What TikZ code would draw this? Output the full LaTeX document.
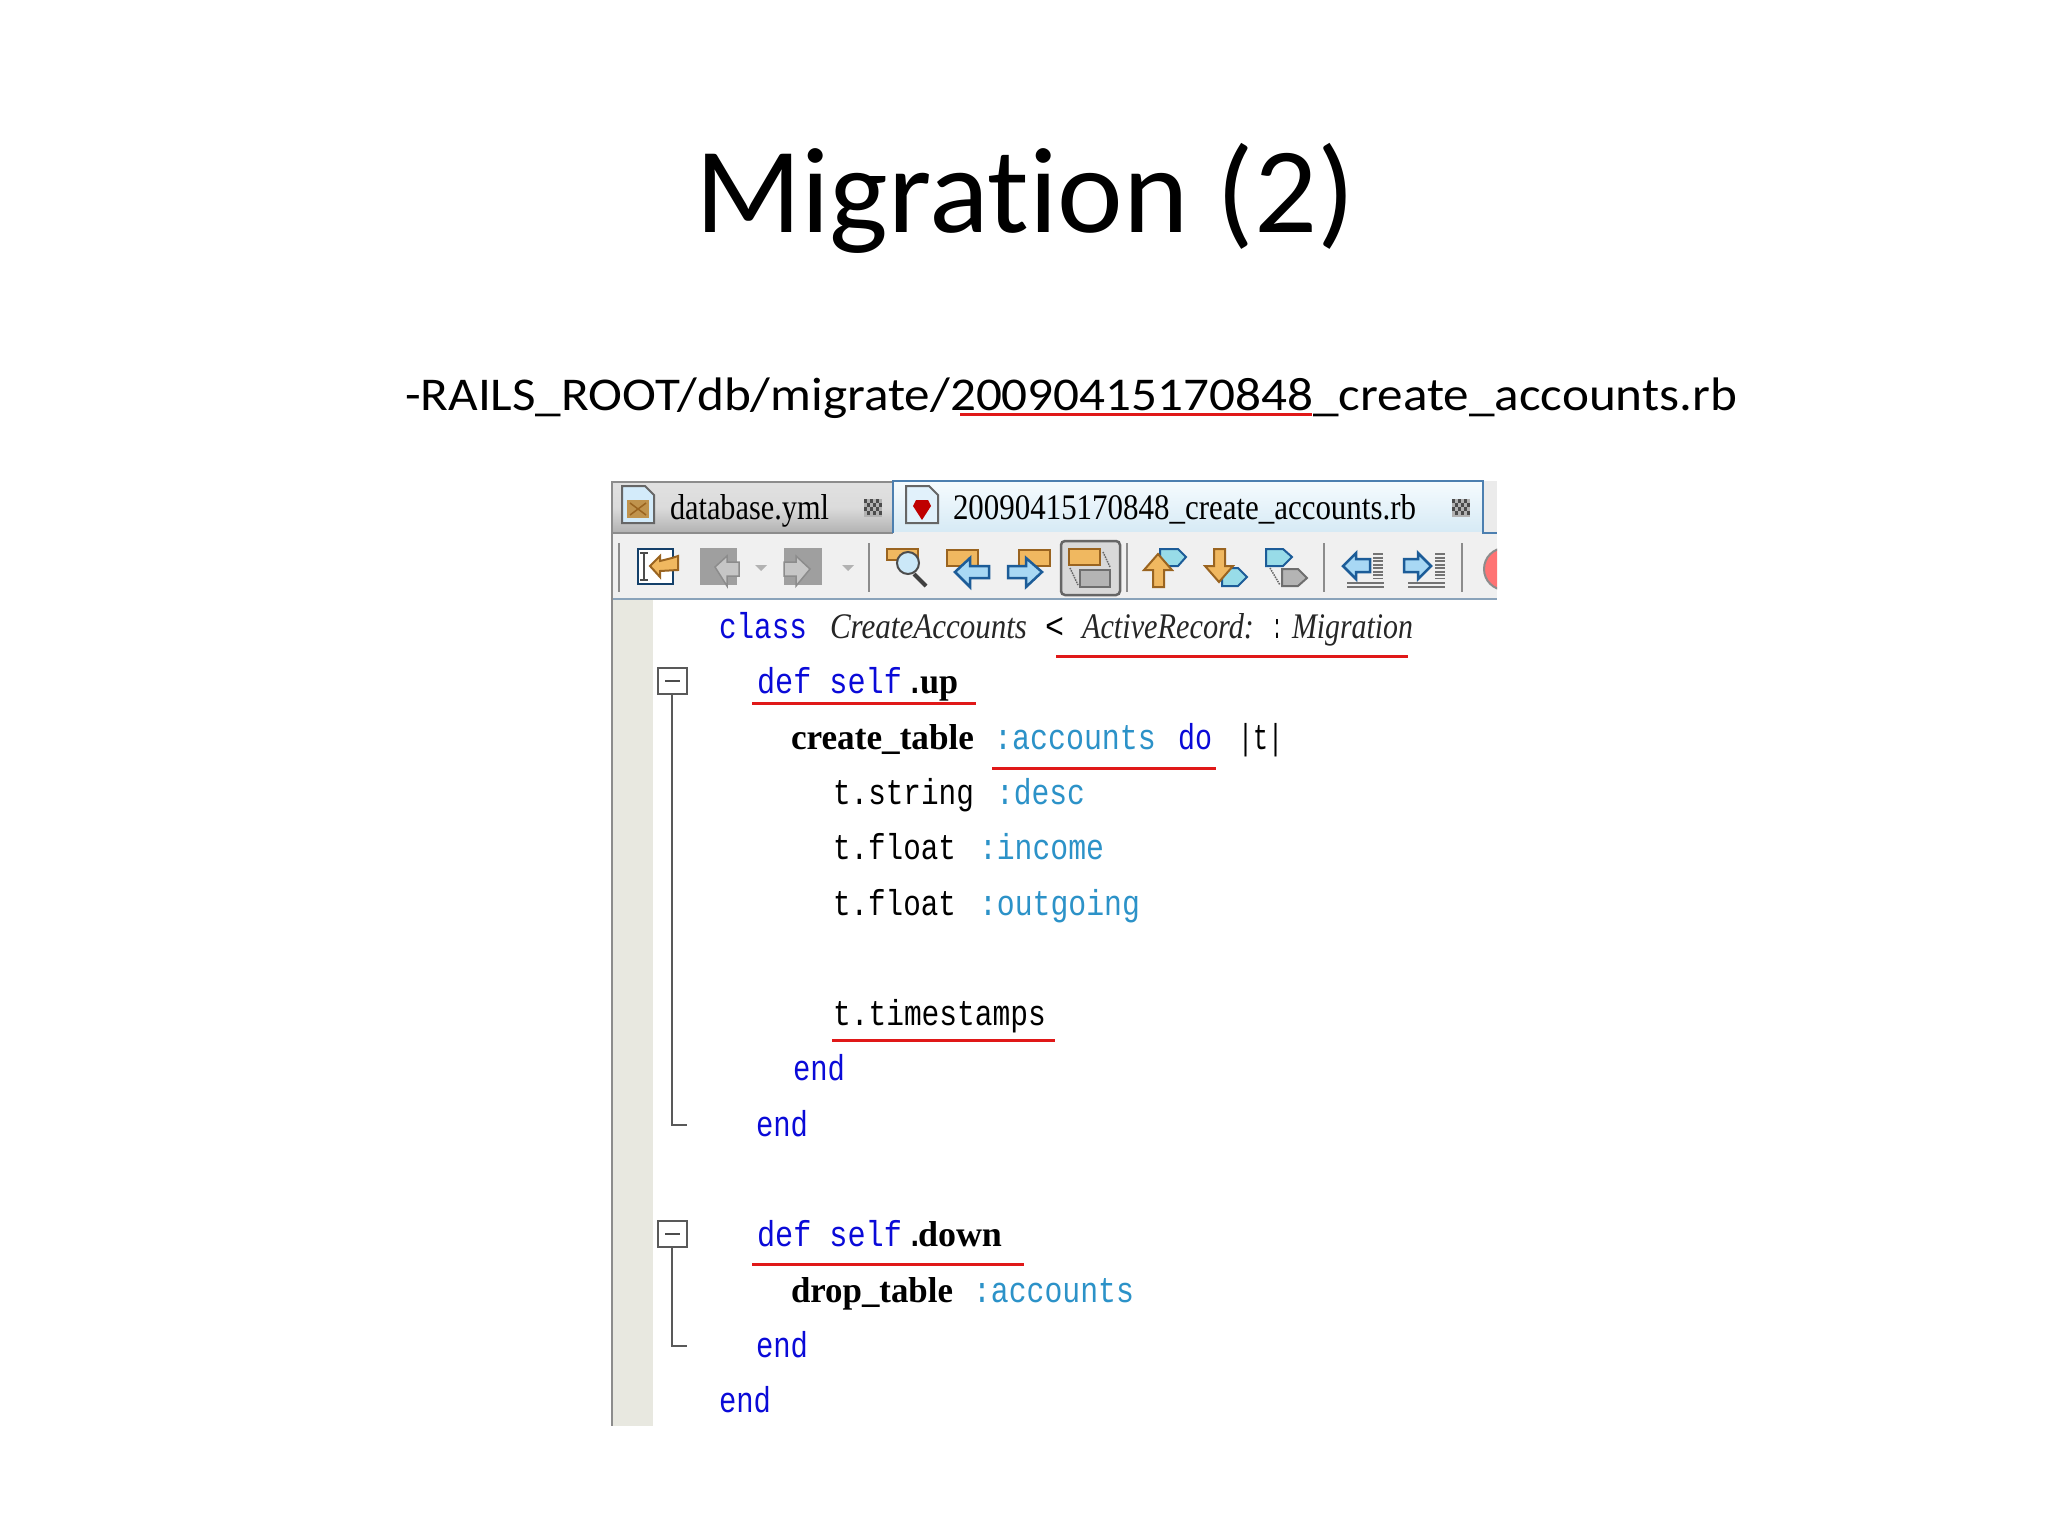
\documentclass[tikz,border=0pt]{standalone}
\usepackage{graphicx}
\usepackage{fontspec}
\setmainfont{Carlito}
\newfontfamily\codefont{Liberation Mono}
\newfontfamily\codeserif{Liberation Serif}
\definecolor{kw}{HTML}{0A0AD8}
\definecolor{sym}{HTML}{2C92C8}
\definecolor{redl}{HTML}{E01818}
\definecolor{gut}{HTML}{E8E8E0}
\definecolor{bord}{HTML}{8C8C8C}
\definecolor{tabblue}{HTML}{4C7FB0}
\definecolor{orng}{HTML}{F0B860}
\definecolor{orngd}{HTML}{9A6420}
\definecolor{bluef}{HTML}{A8D8F4}
\definecolor{blued}{HTML}{1C5C98}
\definecolor{cyanf}{HTML}{98DCE8}
\definecolor{grayf}{HTML}{B4B4B4}
\definecolor{grayd}{HTML}{6E6E6E}
\definecolor{tabtop}{HTML}{F6FBFE}
\definecolor{tabbot}{HTML}{D6EAF5}
\newcommand{\fitw}[2]{\resizebox{#1pt}{\height}{#2}}
\newcommand{\Y}[1]{\the\numexpr 638+#1*553/10\relax}
\newcommand{\closeicon}[2]{%
  \fill[black!30] (#1,#2) rectangle ++(18,18);
  \foreach \ca/\cb in {0/0,6/0,12/0,3/4,9/4,15/4,0/8,6/8,12/8,3/12,9/12,15/12}
    \fill[black!70] (#1+\ca,#2+\cb) rectangle ++(3,4);
}
\tikzset{
  txt/.style={anchor=base west,inner sep=0pt,outer sep=0pt},
  mono/.style={txt,font=\codefont\fontsize{36}{36}\selectfont},
  tnorm/.style={mono,text=black},
  tkw/.style={mono,text=kw},
  tsym/.style={mono,text=sym},
  tbold/.style={txt,font=\codeserif\bfseries\fontsize{36}{36}\selectfont,text=black},
  tit/.style={txt,font=\codeserif\itshape\fontsize{36}{36}\selectfont,text=black!85},
  tser/.style={txt,font=\codeserif\fontsize{36}{36}\selectfont,text=black},
  under/.style={draw=redl,line width=3pt},
  sepbar/.style={draw=bord,line width=2.5pt},
  icoorange/.style={draw=orngd,fill=orng,line width=2pt},
  icoblue/.style={draw=blued,fill=bluef,line width=2.5pt},
  icocyan/.style={draw=blued,fill=cyanf,line width=2pt},
  icogray/.style={draw=grayd,fill=grayf,line width=2pt},
  stripes/.style={draw=black!55,dash pattern=on 2pt off 1.5pt},
  foldln/.style={draw=black!65,line width=2.5pt},
  foldbox/.style={draw=black!65,fill=white,line width=2pt},
}
\begin{document}
\begin{tikzpicture}[x=1pt,y=-1pt]
\useasboundingbox (0,0) rectangle (2048,1536);
\fill[white] (0,0) rectangle (2048,1536);
% title
\node[txt] (title) at (695,232) {\addfontfeatures{Ligatures=NoCommon}\fontsize{122}{122}\selectfont\fitw{660}{Migration (2)}};
\node[txt] (path) at (405,410) {\fontsize{47}{47}\selectfont\fitw{1332}{-RAILS\_ROOT/db/migrate/20090415170848\_create\_accounts.rb}};
\draw[under] (960,414.5) -- (1312,414.5);
% window frame
\fill[gut] (612,600) rectangle (653,1426);
\fill[black!8] (893,481) rectangle (1497,532);
\shade[top color=black!12,bottom color=black!30,middle color=black!14] (612,483) rectangle (893,532);
\shade[top color=tabtop,bottom color=tabbot] (893,481) rectangle (1483,532);
\fill[black!6] (612,532) rectangle (1497,598);
\draw[draw=bord,line width=2pt] (612,482) -- (893,482);
\draw[draw=bord,line width=2pt] (612,533) -- (893,533);
\draw[draw=tabblue,line width=2pt] (893,533) -- (893,481) -- (1483,481) -- (1483,533) -- (1497,533);
\draw[draw=black!20!tabblue!60!white,line width=2pt] (612,599) -- (1497,599);
\draw[draw=bord,line width=2.5pt] (612,481) -- (612,1426);
% tabs
\draw[draw=black!60,fill=bluef!50,line width=2pt] (622,486) -- (645,486) -- (654,495) -- (654,523) -- (622,523) -- cycle;
\fill[orng!80!black] (627,500) rectangle (649,518);
\draw[orngd,line width=1.5pt] (630,515) -- (646,503) (630,503) -- (646,515);
\node[tser] (tabA) at (670,519) {\fitw{159}{database.yml}};
\closeicon{864}{499}
\draw[draw=black!60,fill=bluef!35,line width=2pt] (906,486) -- (929,486) -- (938,495) -- (938,523) -- (906,523) -- cycle;
\fill[red!75!black] (916,500) -- (928,500) -- (931,506) -- (922,520) -- (913,506) -- cycle;
\node[tser] (tabB) at (953,519) {\fitw{463}{20090415170848\_create\_accounts.rb}};
\closeicon{1452}{499}
% toolbar
\foreach \sx in {619,869,1127,1324,1462} \draw[sepbar] (\sx,543) -- (\sx,592);
% icon 1
\draw[draw=blued!70!black,fill=white,line width=2.5pt] (638,549) rectangle (673,584);
\draw[black!70,line width=2pt] (644,553) -- (644,580) (640,553) -- (648,553) (640,580) -- (648,580);
\draw[icoorange] (650,566) -- (660,556) -- (660,561) -- (672,558) -- (678,556) -- (678,570) -- (660,571) -- (660,577) -- cycle;
% disabled
\fill[gray!75] (700,548) rectangle (737,585);
\draw[draw=gray!90,fill=gray!45,line width=1.5pt] (715,567) -- (727,556) -- (727,562) -- (739,562) -- (739,576) -- (727,576) -- (727,586) -- cycle;
\fill[gray!60] (755,565) -- (767,565) -- (761,571) -- cycle;
\fill[gray!75] (784,548) rectangle (822,585);
\draw[draw=gray!90,fill=gray!45,line width=1.5pt] (784,562) -- (796,562) -- (796,556) -- (810,569) -- (796,586) -- (796,576) -- (784,576) -- cycle;
\fill[gray!60] (842,565) -- (854,565) -- (848,571) -- cycle;
% search
\draw[icoorange] (887,549) rectangle (918,560);
\draw[black!75,line width=4pt] (914,574) -- (926,586);
\draw[black!70,fill=bluef!60,line width=2pt] (908,563) circle (11);
% find prev
\draw[icoorange] (947,550) rectangle (978,566);
\draw[icoblue] (955,572) -- (970,558) -- (970,566) -- (989,566) -- (989,578) -- (970,578) -- (970,587) -- cycle;
% find next
\draw[icoorange] (1019,550) rectangle (1050,566);
\draw[icoblue] (1008,566) -- (1026,566) -- (1026,558) -- (1042,572) -- (1026,587) -- (1026,578) -- (1008,578) -- cycle;
% toggle
\draw[draw=black!60,fill=black!15,line width=2.5pt,rounded corners=4pt] (1061,541) rectangle (1120,595);
\draw[icoorange] (1069,549) rectangle (1100,565);
\draw[icogray] (1080,570) rectangle (1110,587);
\draw[black!60,line width=1.5pt,densely dotted] (1103,552) -- (1110,567) (1070,568) -- (1078,585);
% up
\draw[icocyan] (1160,549) -- (1178,549) -- (1186,557) -- (1178,566) -- (1160,566) -- cycle;
\draw[icoorange] (1144,570) -- (1158,554) -- (1172,570) -- (1164,570) -- (1164,587) -- (1153,587) -- (1153,570) -- cycle;
% down
\draw[icocyan] (1222,568) -- (1238,568) -- (1247,577) -- (1238,586) -- (1222,586) -- cycle;
\draw[icoorange] (1214,549) -- (1225,549) -- (1225,566) -- (1233,566) -- (1219,582) -- (1205,566) -- (1214,566) -- cycle;
% tags
\draw[icocyan] (1266,549) -- (1283,549) -- (1292,557) -- (1283,566) -- (1266,566) -- cycle;
\draw[icogray] (1282,569) -- (1298,569) -- (1307,578) -- (1298,586) -- (1282,586) -- cycle;
\draw[black!60,line width=1.5pt,densely dotted] (1270,568) -- (1280,585);
% shift left
\draw[icoblue] (1343,566) -- (1356,553) -- (1356,559) -- (1370,559) -- (1370,572) -- (1356,572) -- (1356,579) -- cycle;
\draw[stripes,line width=10pt] (1378,553) -- (1378,578);
\draw[draw=black!55,line width=2pt] (1347,583) -- (1384,583) (1347,587) -- (1384,587);
% shift right
\draw[icoblue] (1404,559) -- (1418,559) -- (1418,553) -- (1431,566) -- (1418,579) -- (1418,572) -- (1404,572) -- cycle;
\draw[stripes,line width=10pt] (1440,553) -- (1440,578);
\draw[draw=black!55,line width=2pt] (1408,583) -- (1445,583) (1408,587) -- (1445,587);
% stop circle clipped
\begin{scope}
\clip (1470,535) rectangle (1497,597);
\draw[draw=black!45,fill=red!55,line width=2pt] (1505,569) circle (21);
\end{scope}
% folding
\draw[foldln] (672,693) -- (672,1125) -- (687,1125);
\draw[foldbox] (658,668) rectangle (687,694);
\draw[black!70,line width=2pt] (665,681) -- (680,681);
\draw[foldln] (672,1246) -- (672,1346) -- (687,1346);
\draw[foldbox] (658,1221) rectangle (687,1247);
\draw[black!70,line width=2pt] (665,1234) -- (680,1234);
% code
\node[tkw] (c0a) at (719,\Y{0}) {\fitw{88}{class}};
\node[tit] (c0b) at (830,\Y{0}) {\fitw{197}{CreateAccounts}};
\node[tnorm] (c0c) at (1045,\Y{0}) {\fitw{19}{<}};
\node[tit] (c0d) at (1082,\Y{0}) {\fitw{172}{ActiveRecord:}};
\node[tnorm] (c0e) at (1272,\Y{0}) {\fitw{10}{:}};
\node[tit] (c0f) at (1292,\Y{0}) {\fitw{121}{Migration}};
\node[tkw] (c1a) at (757,\Y{1}) {\fitw{145}{def self}};
\node[tnorm] (c1b) at (904,\Y{1}) {.};
\node[tbold] (c1c) at (920,\Y{1}) {\fitw{38}{up}};
\node[tbold] (c2a) at (791,\Y{2}) {\fitw{183}{create\_table}};
\node[tsym] (c2b) at (994,\Y{2}) {\fitw{162}{:accounts}};
\node[tkw] (c2c) at (1178,\Y{2}) {\fitw{34}{do}};
\node[tnorm] (c2d) at (1238,\Y{2}) {\fitw{45}{|t|}};
\node[tnorm] (c3a) at (833,\Y{3}) {\fitw{141}{t.string}};
\node[tsym] (c3b) at (996,\Y{3}) {\fitw{89}{:desc}};
\node[tnorm] (c4a) at (833,\Y{4}) {\fitw{123}{t.float}};
\node[tsym] (c4b) at (979,\Y{4}) {\fitw{125}{:income}};
\node[tnorm] (c5a) at (833,\Y{5}) {\fitw{123}{t.float}};
\node[tsym] (c5b) at (979,\Y{5}) {\fitw{161}{:outgoing}};
\node[tnorm] (c7a) at (833,\Y{7}) {\fitw{213}{t.timestamps}};
\node[tkw] (c8a) at (793,\Y{8}) {\fitw{52}{end}};
\node[tkw] (c9a) at (756,\Y{9}) {\fitw{52}{end}};
\node[tkw] (c11a) at (757,\Y{11}) {\fitw{145}{def self}};
\node[tnorm] (c11b) at (904,\Y{11}) {.};
\node[tbold] (c11c) at (918,\Y{11}) {\fitw{84}{down}};
\node[tbold] (c12a) at (791,\Y{12}) {\fitw{162}{drop\_table}};
\node[tsym] (c12b) at (973,\Y{12}) {\fitw{161}{:accounts}};
\node[tkw] (c13a) at (756,\Y{13}) {\fitw{52}{end}};
\node[tkw] (c14a) at (719,\Y{14}) {\fitw{52}{end}};
% red underlines
\draw[under] (1056,656) -- (1408,656);
\draw[under] (752,703) -- (976,703);
\draw[under] (992,768) -- (1216,768);
\draw[under] (832,1040) -- (1055,1040);
\draw[under] (752,1264) -- (1024,1264);
\end{tikzpicture}
\end{document}
